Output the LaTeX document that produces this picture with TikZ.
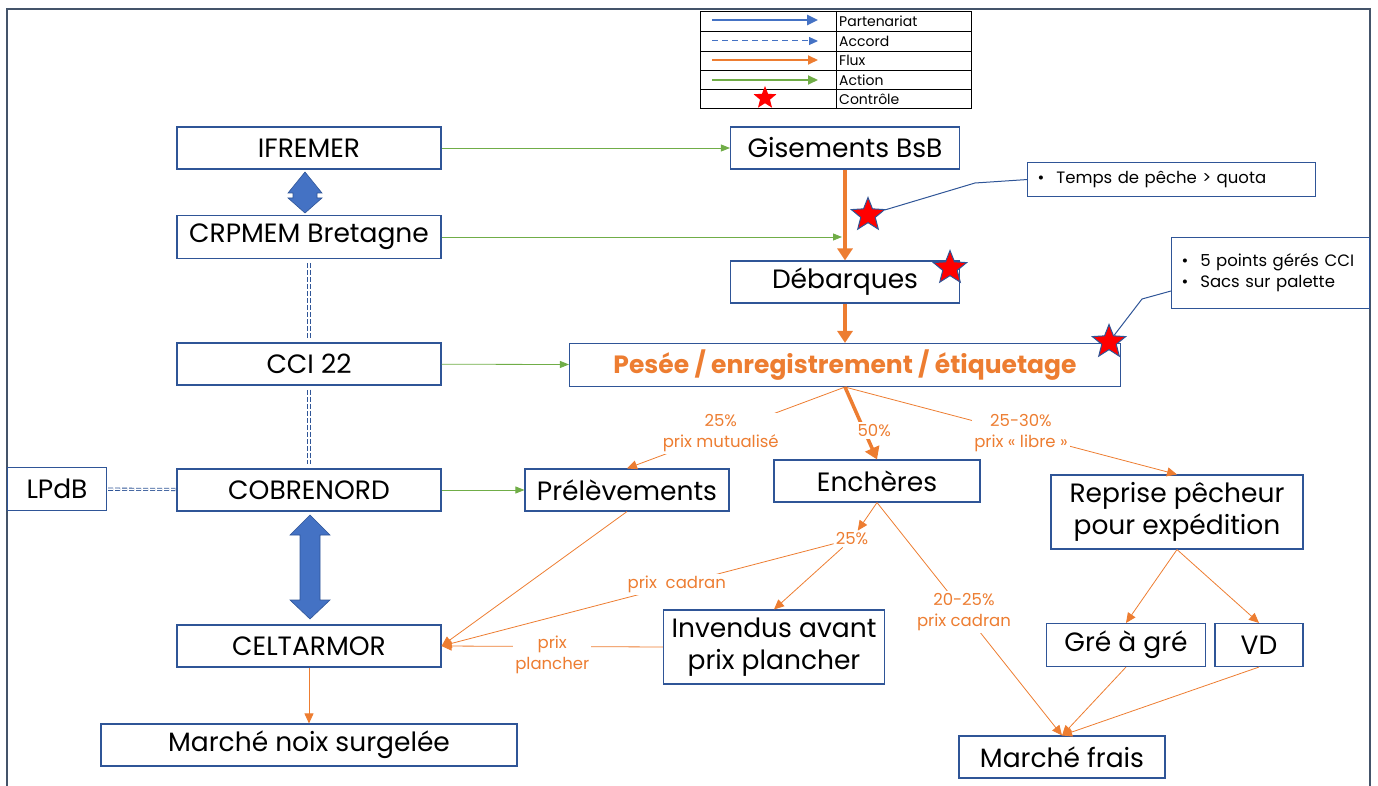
\documentclass[tikz,border=0pt]{standalone}
\usepackage{fontspec}
\setmainfont{Poppins}
\usetikzlibrary{arrows.meta,positioning,shapes.geometric}
\definecolor{boxblue}{HTML}{2F5597}
\definecolor{partblue}{HTML}{4472C4}
\definecolor{fluxorange}{HTML}{ED7D31}
\definecolor{actgreen}{HTML}{70AD47}
\definecolor{framegray}{HTML}{44546A}

\begin{document}
\begin{tikzpicture}[
  x=1pt,y=-1pt,
  box/.style={draw=boxblue,line width=1.1pt,inner sep=0pt,align=center,font=\fontsize{26.5}{32}\selectfont},
  note/.style={draw=boxblue,line width=1.1pt,inner xsep=10pt,inner ysep=0pt,align=left,font=\fontsize{16.5}{21}\selectfont},
  lbl/.style={text=fluxorange,fill=white,inner sep=2pt,align=center,font=\fontsize{16.5}{21}\selectfont},
  flux/.style={draw=fluxorange,line width=0.8pt,-{Triangle[length=10pt,width=9pt]}},
  bigflux/.style={draw=fluxorange,line width=4pt,-{Triangle[length=12pt,width=15pt]}},
  action/.style={draw=actgreen,line width=0.8pt,-{Triangle[length=9pt,width=7pt]}},
  accord/.style={draw=boxblue,line width=0.8pt,double=white,double distance=1.5pt,dash pattern=on 5pt off 2pt,
                 shorten <=4pt,shorten >=4pt},
  bigarrow/.style={fill=partblue,draw=boxblue,line width=0.6pt},
  ctrl/.style={star,star points=5,star point ratio=2.3,minimum size=35pt,inner sep=0pt,fill=red,draw=boxblue,line width=1pt},
  callout/.style={draw=boxblue,line width=1pt},
  legtxt/.style={anchor=west,inner sep=2pt,font=\fontsize{14}{16}\selectfont}
]
\useasboundingbox (0,0) rectangle (1378,786);

% ---- frame ----
\draw[framegray,line width=1.6pt] (7,786) -- (7,9) -- (1370,9) -- (1370,786);

% ---- legend ----
\draw[black,line width=0.8pt] (700,11) rectangle (971,108);
\foreach \y in {31,51,70,89} \draw[black,line width=0.8pt] (700,\y) -- (971,\y);
\draw[black,line width=0.8pt] (836,11) -- (836,108);
\draw[partblue,line width=2.5pt,-{Triangle[length=11pt,width=10pt]}] (712,20) -- (818,20);
\draw[partblue,line width=1pt,dash pattern=on 6pt off 4pt,-{Triangle[length=9pt,width=8pt]}] (712,41) -- (818,41);
\draw[fluxorange,line width=2pt,-{Triangle[length=10pt,width=9pt]}] (712,60) -- (818,60);
\draw[actgreen,line width=2pt,-{Triangle[length=10pt,width=9pt]}] (712,80) -- (818,80);
\node[ctrl,minimum size=24pt,draw=none] (legStar) at (765,98) {};
\node[legtxt] (legPart) at (837,21) {Partenariat};
\node[legtxt] (legAccord) at (837,41) {Accord};
\node[legtxt] (legFlux) at (837,60) {Flux};
\node[legtxt] (legAction) at (837,80) {Action};
\node[legtxt] (legCtrl) at (837,99) {Contrôle};

% ---- left column ----
\node[box,minimum width=264pt,minimum height=42pt] (ifremer) at (309,148) {IFREMER};
\node[box,minimum width=264pt,minimum height=43pt] (crpmem) at (309,237) {CRPMEM Bretagne};
\node[box,minimum width=264pt,minimum height=42pt] (cci) at (309,364) {CCI 22};
\node[box,minimum width=264pt,minimum height=42pt] (cobrenord) at (309,490) {COBRENORD};
\node[box,minimum width=99pt,minimum height=43pt] (lpdb) at (57,489) {LPdB};
\node[box,minimum width=264pt,minimum height=42pt] (celtarmor) at (309,646) {CELTARMOR};
\node[box,minimum width=416pt,minimum height=42pt] (noix) at (309,745) {Marché noix surgelée};

% ---- chain of the catch ----
\node[box,minimum width=229pt,minimum height=42pt] (gisements) at (845,148) {Gisements BsB};
\node[box,minimum width=229pt,minimum height=42pt] (debarques) at (845,282) {Débarques};
\node[box,minimum width=551pt,minimum height=43pt,text=fluxorange,
      font=\bfseries\fontsize{25}{28}\selectfont] (pesee) at (845,365) {Pesée / enregistrement / étiquetage};
\node[box,minimum width=204pt,minimum height=42pt] (prelev) at (627,490) {Prélèvements};
\node[box,minimum width=206pt,minimum height=42pt] (encheres) at (877,481) {Enchères};
\node[box,minimum width=252pt,minimum height=74pt] (reprise) at (1177,512) {Reprise pêcheur\\pour expédition};
\node[box,minimum width=221pt,minimum height=74pt] (invendus) at (774,647) {Invendus avant\\prix plancher};
\node[box,minimum width=159pt,minimum height=43pt] (gre) at (1126,645) {Gré à gré};
\node[box,minimum width=88pt,minimum height=43pt] (vd) at (1259,645) {VD};
\node[box,minimum width=206pt,minimum height=42pt] (frais) at (1062,757) {Marché frais};

% ---- notes ----
\node[note,anchor=north west,text width=268pt,minimum height=34pt] (quota) at (1027,162)
  {\textbullet\hspace{12pt}Temps de pêche > quota};
\node[note,anchor=north west,text width=178pt,minimum height=71pt] (cciNote) at (1171,237)
  {\textbullet\hspace{12pt}5 points gérés CCI\\ \textbullet\hspace{12pt}Sacs sur palette};

% ---- partnerships ----
\fill[bigarrow] (305,172) -- (322,193) -- (317,193) -- (317,198) -- (322,198) -- (305,213)
  -- (288,198) -- (293,198) -- (293,193) -- (288,193) -- cycle;
\fill[bigarrow] (310,515) -- (330,535) -- (320,535) -- (320,600) -- (330,600) -- (310,619)
  -- (290,600) -- (300,600) -- (300,535) -- (290,535) -- cycle;
\draw[accord] (crpmem) -- (cci);
\draw[accord] (cci) -- (cobrenord);
\draw[accord,shorten <=1pt,shorten >=1pt] (lpdb) -- (cobrenord);

% ---- actions ----
\coordinate (flowHit) at (842,237);
\draw[action] (ifremer) -- (gisements);
\draw[action] (crpmem) -- (flowHit);
\draw[action] (cci) -- (pesee);
\draw[action] (cobrenord) -- (prelev);

% ---- flows ----
\draw[bigflux] (gisements) -- (debarques);
\draw[bigflux] (debarques) -- (pesee);
\draw[bigflux,line width=3.5pt] (pesee.south) -- node[lbl,pos=0.6,xshift=10pt] {50\%} (encheres.north);
\draw[flux] (pesee.south) -- node[lbl,pos=0.57] {25\%\\prix mutualisé} (prelev.north);
\draw[flux] (pesee.south) -- node[lbl,pos=0.53] {25-30\%\\prix « libre »} (reprise.north);

\node[lbl] (part25) at (852,539) {25\%};
\draw[flux] (encheres.south) -- (part25);
\draw[flux] (part25) -- (invendus.north);
\draw[flux] (part25) -- node[lbl,pos=0.4] {prix\ \ cadran} (celtarmor.east);
\draw[flux] (invendus.west) -- node[lbl,midway,yshift=-8pt] {prix\\plancher} (celtarmor.east);
\draw[flux] (prelev.south) -- (celtarmor.east);
\draw[flux] (celtarmor) -- (noix);
\draw[flux] (encheres.south) -- node[lbl,pos=0.47] {20-25\%\\prix cadran} (frais.north);
\draw[flux] (reprise.south) -- (gre.north);
\draw[flux] (reprise.south) -- (vd.north);
\draw[flux] (gre.south) -- (frais.north);
\draw[flux] (vd.south) -- (frais.north);

% ---- controls ----
\node[ctrl] (star1) at (868,215) {};
\node[ctrl] (star2) at (950,268) {};
\node[ctrl] (star3) at (1109,342) {};
\coordinate (qBend) at (975,183);
\coordinate (cBend) at (1142,299);
\coordinate (cciNoteIn) at (1171,291);
\draw[callout] (star1) -- (qBend) -- (quota.west);
\draw[callout] (star3) -- (cBend) -- (cciNoteIn);

\end{tikzpicture}
\end{document}
